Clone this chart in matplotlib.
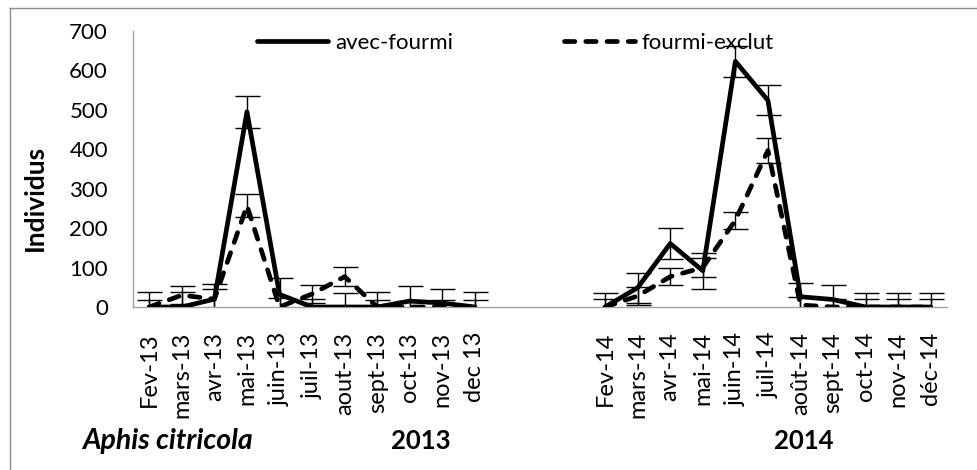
import numpy as np
import matplotlib.pyplot as plt
from matplotlib.lines import Line2D

plt.rcParams['font.family'] = ['Lato', 'DejaVu Sans']

# months shown on the axis, with an empty stretch between the two years
months_2013 = ['Fev-13', 'mars-13', 'avr-13', 'mai-13', 'juin-13', 'juil-13',
               'aout-13', 'sept-13', 'oct-13', 'nov-13', 'dec 13']
months_2014 = ['Fev-14', 'mars-14', 'avr-14', 'mai-14', 'juin-14', 'juil-14',
               'août-14', 'sept-14', 'oct-14', 'nov-14', 'déc-14']
gap_months = 3

avec_2013 = [0, 0, 20, 495, 32, 0, 0, 0, 15, 10, 0]
avec_2013_err = [38, 38, 39, 40, 42, 20, 36, 38, 37, 35, 38]
exclut_2013 = [0, 30, 20, 257, 0, 33, 77, 0, 0, 0, 0]
exclut_2013_err = [18, 22, 25, 30, 23, 23, 25, 18, 15, 18, 18]

avec_2014 = [0, 49, 161, 92, 623, 524, 26, 19, 0, 0, 0]
avec_2014_err = [36, 38, 39, 46, 40, 38, 36, 37, 36, 36, 36]
exclut_2014 = [0, 28, 77, 100, 220, 397, 5, 0, 0, 0, 0]
exclut_2014_err = [20, 22, 22, 24, 22, 32, 20, 20, 20, 20, 20]

W, H = 978, 470
fig = plt.figure(figsize=(W / 100, H / 100), dpi=100)
ax = fig.add_axes([133 / W, 1 - 307 / H, (947 - 133) / W, (307 - 31) / H])

x13 = np.arange(len(months_2013))
x14 = np.arange(len(months_2014)) + len(months_2013) + gap_months

err_kw = dict(fmt='none', ecolor='black', elinewidth=1.0, capsize=9, capthick=1.0, zorder=2)
line_kw = dict(color='black', lw=3.4, zorder=3)
dash = (0, (2.2, 2.3))

for xs, ys, es in [(x13, avec_2013, avec_2013_err), (x14, avec_2014, avec_2014_err)]:
    ax.errorbar(xs, ys, yerr=es, **err_kw)
for xs, ys, es in [(x13, exclut_2013, exclut_2013_err), (x14, exclut_2014, exclut_2014_err)]:
    ax.errorbar(xs, ys, yerr=es, **err_kw)

ax.plot(x13, avec_2013, solid_capstyle='round', label='avec-fourmi', **line_kw)
ax.plot(x14, avec_2014, solid_capstyle='round', **line_kw)
ax.plot(x13, exclut_2013, linestyle=dash, dash_capstyle='round',
        label='fourmi-exclut', **line_kw)
ax.plot(x14, exclut_2014, linestyle=dash, dash_capstyle='round', **line_kw)

n_total = len(months_2013) + gap_months + len(months_2014)
ax.set_xlim(-0.5, n_total - 0.5)
ax.set_ylim(0, 700)
ax.set_yticks(np.arange(0, 701, 100))
ax.set_xticks(np.concatenate([x13, x14]))
ax.set_xticklabels(months_2013 + months_2014, rotation=90, fontsize=17)
ax.tick_params(axis='x', length=0, pad=18)
ax.tick_params(axis='y', length=0, pad=18, labelsize=16)

for side in ['top', 'right']:
    ax.spines[side].set_visible(False)
for side in ['left', 'bottom']:
    ax.spines[side].set_color('#a0a0a0')
    ax.spines[side].set_linewidth(1.0)

ax.legend(loc='center left', bbox_to_anchor=(257 / W, 1 - 43 / H),
          bbox_transform=fig.transFigure, ncol=2, frameon=False, fontsize=16,
          handlelength=3.2, handletextpad=0.3, columnspacing=5.0, borderpad=0,
          borderaxespad=0)

fig.text(35 / W, 1 - 198 / H, 'Individus', rotation=90, ha='center', va='center',
         fontsize=19, fontweight='bold')
fig.text(82 / W, 1 - 441 / H, 'Aphis citricola', ha='left', va='center',
         fontsize=20.5, fontweight='bold', fontstyle='italic')
fig.text(421 / W, 1 - 441 / H, '2013', ha='center', va='center',
         fontsize=18.5, fontweight='bold')
fig.text(804 / W, 1 - 441 / H, '2014', ha='center', va='center',
         fontsize=18.5, fontweight='bold')

# outer frame of the chart area
fig.add_artist(Line2D([10 / W, 1], [1 - 8 / H, 1 - 8 / H], transform=fig.transFigure,
                      color='#8c8c8c', lw=1))
fig.add_artist(Line2D([10 / W, 10 / W], [0, 1 - 8 / H], transform=fig.transFigure,
                      color='#8c8c8c', lw=1))

fig.savefig('out.png', dpi=100)
